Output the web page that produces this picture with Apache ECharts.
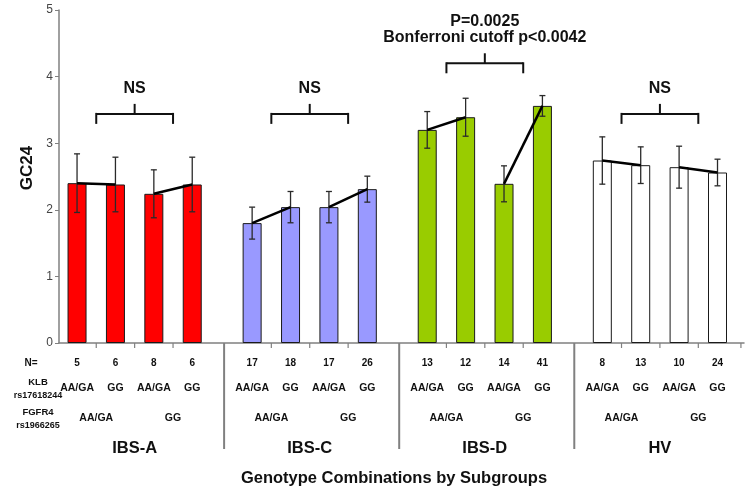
<!DOCTYPE html>
<html><head><meta charset="utf-8">
<script src="https://cdn.jsdelivr.net/npm/echarts@6/dist/echarts.min.js"></script>
<style>html,body{margin:0;padding:0;background:#fff}#c{width:748px;height:492px}</style>
</head><body><div id="c"></div>
<script>
// ---- data ----
const groups = ['IBS-A', 'IBS-C', 'IBS-D', 'HV'];
const ibsA = [2.40, 2.38, 2.24, 2.38];
const ibsC = [1.80, 2.04, 2.04, 2.31];
const ibsD = [3.20, 3.39, 2.39, 3.56];
const hv   = [2.74, 2.67, 2.64, 2.56];
const ibsAErr = [0.44, 0.41, 0.36, 0.41];
const ibsCErr = [0.24, 0.235, 0.235, 0.195];
const ibsDErr = [0.275, 0.285, 0.27, 0.155];
const hvErr   = [0.355, 0.275, 0.315, 0.20];
const nCounts = [[5, 6, 8, 6], [17, 18, 17, 26], [13, 12, 14, 41], [8, 13, 10, 24]];
const klbGenotypes = ['AA/GA', 'GG', 'AA/GA', 'GG'];
const fgfr4Genotypes = ['AA/GA', 'GG'];
const sigLabels = ['NS', 'NS', 'P=0.0025\nBonferroni cutoff p<0.0042', 'NS'];
const bracketLevels = [3.44, 3.44, 4.20, 3.44];
const yAxisTitle = 'GC24';
const xAxisTitle = 'Genotype Combinations by Subgroups';

// ---- layout / style ----
const means = [ibsA, ibsC, ibsD, hv];
const errs = [ibsAErr, ibsCErr, ibsDErr, hvErr];
const colors = ['#ff0000', '#9999ff', '#99cc00', '#ffffff'];
const GP = 4.56;             // group pitch in bar slots
const FONT = '"Liberation Sans", Arial, sans-serif';
const pos = (g, i) => g * GP + i;

const barData = [], errData = [], tableData = [], linkData = [], fgData = [], bracketData = [], tickData = [];
means.forEach((vals, g) => {
  vals.forEach((v, i) => {
    barData.push({ value: [pos(g, i), v], itemStyle: { color: colors[g] } });
    errData.push([pos(g, i), v - errs[g][i], v + errs[g][i]]);
    tableData.push([pos(g, i), g, i]);
    if (i < 3) tickData.push([pos(g, i) + 0.5, 0]);
  });
  linkData.push([pos(g, 0), vals[0], pos(g, 1), vals[1]]);
  linkData.push([pos(g, 2), vals[2], pos(g, 3), vals[3]]);
  fgData.push([pos(g, 0.5), g, 0]);
  fgData.push([pos(g, 2.5), g, 1]);
  bracketData.push([pos(g, 0.5), pos(g, 2.5), bracketLevels[g], g]);
  if (g < 3) tickData.push([pos(g, 3.83), 1]);
});
tickData.push([17.29, 0]);

const chart = echarts.init(document.getElementById('c'));
const txt = (x, y, text, size, extra) => Object.assign({
  type: 'text', x: x, y: y,
  style: { text: text, font: 'bold ' + size + 'px ' + FONT, fill: '#111', textAlign: 'center', textVerticalAlign: 'middle' }
}, extra || {});

chart.setOption({
  animation: false,
  grid: { left: 59, right: 4, top: 10, bottom: 149 },
  xAxis: {
    type: 'value', min: -0.47, max: 17.37,
    axisLine: { show: true, onZero: false, lineStyle: { color: '#808080', width: 1.5 } },
    axisTick: { show: false }, axisLabel: { show: false }, splitLine: { show: false }
  },
  yAxis: {
    type: 'value', min: 0, max: 5, interval: 1,
    axisLine: { show: true, onZero: false, lineStyle: { color: '#808080', width: 1.5 } },
    axisTick: { show: true, length: 4, lineStyle: { color: '#808080' } },
    axisLabel: { color: '#444', fontSize: 12, fontFamily: FONT, margin: 6 },
    splitLine: { show: false }
  },
  graphic: [
    txt(31, 363, 'N=', 10),
    txt(38, 382, 'KLB', 9.5),
    txt(38, 396, 'rs17618244', 9),
    txt(38, 412, 'FGFR4', 9.5),
    txt(38, 426, 'rs1966265', 9),
    txt(27, 168, yAxisTitle, 17, { rotation: Math.PI / 2 }),
    txt(394, 478, xAxisTitle, 16.5)
  ],
  series: [
    {
      type: 'bar', data: barData, barWidth: 19, z: 2,
      itemStyle: { borderColor: '#1a1a1a', borderWidth: 1 }
    },
    {
      type: 'custom', data: errData, z: 3, clip: false,
      renderItem: function (params, api) {
        const t = api.coord([api.value(0), api.value(2)]);
        const b = api.coord([api.value(0), api.value(1)]);
        const st = { stroke: '#2a2a2a', lineWidth: 1.3 };
        return { type: 'group', children: [
          { type: 'line', shape: { x1: t[0], y1: t[1], x2: b[0], y2: b[1] }, style: st },
          { type: 'line', shape: { x1: t[0] - 3, y1: t[1], x2: t[0] + 3, y2: t[1] }, style: st },
          { type: 'line', shape: { x1: b[0] - 3, y1: b[1], x2: b[0] + 3, y2: b[1] }, style: st }
        ] };
      }
    },
    {
      type: 'custom', data: linkData, z: 4, clip: false,
      renderItem: function (params, api) {
        const a = api.coord([api.value(0), api.value(1)]);
        const b = api.coord([api.value(2), api.value(3)]);
        return { type: 'line', shape: { x1: a[0], y1: a[1], x2: b[0], y2: b[1] }, style: { stroke: '#000', lineWidth: 2.5 } };
      }
    },
    {
      type: 'custom', data: bracketData, z: 4, clip: false,
      renderItem: function (params, api) {
        const l = api.coord([api.value(0), api.value(2)]);
        const r = api.coord([api.value(1), api.value(2)]);
        const cx = (l[0] + r[0]) / 2;
        const st = { stroke: '#111', lineWidth: 2 };
        return { type: 'group', children: [
          { type: 'line', shape: { x1: l[0], y1: l[1], x2: r[0], y2: r[1] }, style: st },
          { type: 'line', shape: { x1: l[0], y1: l[1] - 1, x2: l[0], y2: l[1] + 10 }, style: st },
          { type: 'line', shape: { x1: r[0], y1: r[1] - 1, x2: r[0], y2: r[1] + 10 }, style: st },
          { type: 'line', shape: { x1: cx, y1: l[1], x2: cx, y2: l[1] - 10 }, style: st },
          { type: 'text', x: cx, y: l[1] - 17, style: {
            text: sigLabels[api.value(3)], font: 'bold 16px ' + FONT, fill: '#111',
            textAlign: 'center', textVerticalAlign: 'bottom', lineHeight: 16.5 } }
        ] };
      }
    },
    {
      type: 'custom', data: tickData, z: 1, clip: false,
      renderItem: function (params, api) {
        const p = api.coord([api.value(0), 0]);
        const sep = api.value(1) === 1;
        return { type: 'line', shape: { x1: p[0], y1: p[1], x2: p[0], y2: sep ? 449 : p[1] + 5 },
          style: { stroke: '#808080', lineWidth: sep ? 2 : 1.2 } };
      }
    },
    {
      type: 'custom', data: tableData, z: 1, clip: false,
      renderItem: function (params, api) {
        const p = api.coord([api.value(0), 0]);
        const g = api.value(1), i = api.value(2);
        return { type: 'group', children: [
          { type: 'text', x: p[0], y: 363, style: { text: String(nCounts[g][i]), font: 'bold 10px ' + FONT, fill: '#111', textAlign: 'center', textVerticalAlign: 'middle' } },
          { type: 'text', x: p[0], y: 388, style: { text: klbGenotypes[i], font: 'bold 10.5px ' + FONT, fill: '#111', textAlign: 'center', textVerticalAlign: 'middle' } }
        ] };
      }
    },
    {
      type: 'custom', data: fgData, z: 1, clip: false,
      renderItem: function (params, api) {
        const p = api.coord([api.value(0), 0]);
        const g = api.value(1), k = api.value(2);
        const children = [
          { type: 'text', x: p[0], y: 418, style: { text: fgfr4Genotypes[k], font: 'bold 10.5px ' + FONT, fill: '#111', textAlign: 'center', textVerticalAlign: 'middle' } }
        ];
        if (k === 0) {
          const c = api.coord([api.value(0) + 1, 0]);
          children.push({ type: 'text', x: c[0], y: 448, style: { text: groups[g], font: 'bold 16.5px ' + FONT, fill: '#111', textAlign: 'center', textVerticalAlign: 'middle' } });
        }
        return { type: 'group', children: children };
      }
    }
  ]
});
</script></body></html>
